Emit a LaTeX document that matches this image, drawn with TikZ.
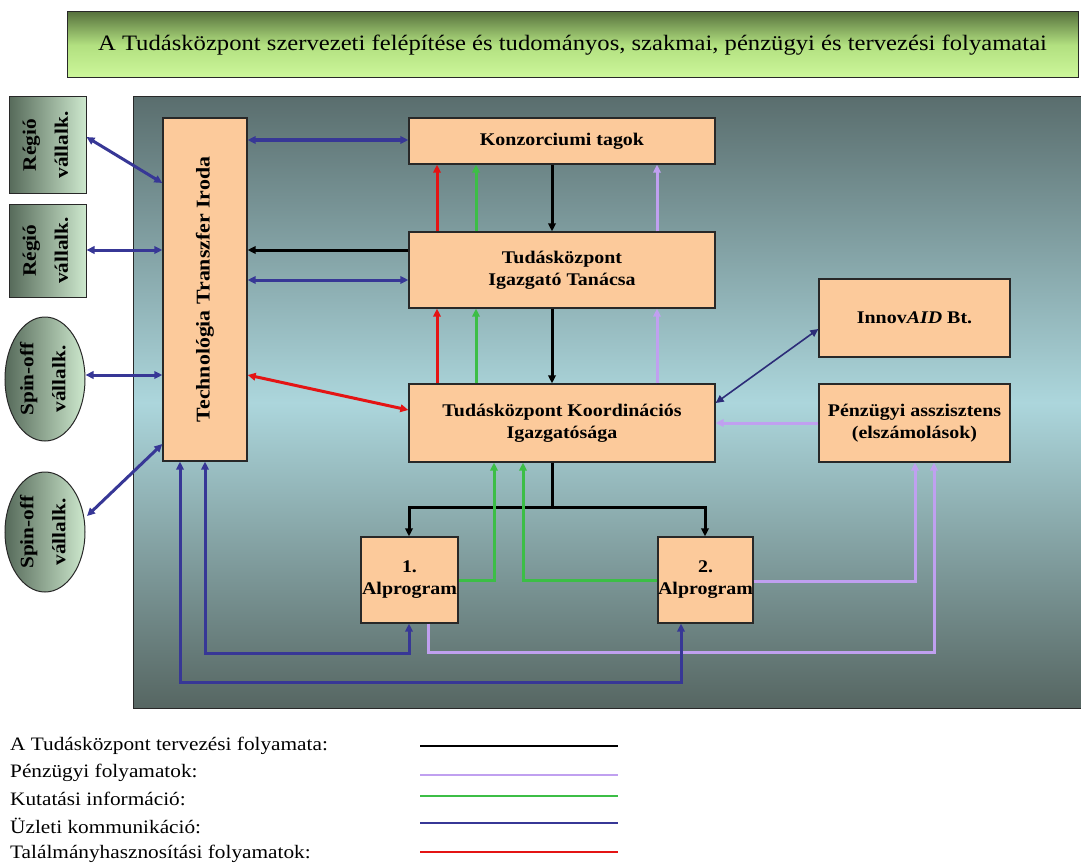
\documentclass[tikz,border=0pt]{standalone}
\usepackage{fontspec}
\setmainfont{Liberation Serif}
\newfontfamily\widefont[FakeStretch=1.12]{Liberation Serif}
\usetikzlibrary{arrows.meta,shapes.geometric,calc}
\definecolor{peach}{RGB}{252,202,155}
\definecolor{cred}{RGB}{228,20,20}
\definecolor{cgreen}{RGB}{60,190,70}
\definecolor{clav}{RGB}{192,160,240}
\definecolor{cblue}{RGB}{55,55,150}
\definecolor{edge}{RGB}{40,40,40}
\definecolor{sidedark}{RGB}{86,106,90}
\definecolor{sidelight}{RGB}{205,232,205}
\begin{document}
\begin{tikzpicture}[x=1pt,y=-1pt,
  box/.style={draw=edge,line width=1.3pt,fill=peach,minimum width=#1,inner sep=0pt,align=center,
    font=\widefont\fontsize{17.8}{22}\selectfont\bfseries},
  side/.style={draw=edge,line width=1pt,left color=sidedark,right color=sidelight,
    inner sep=0pt,font=\widefont\fontsize{19}{22}\selectfont\bfseries},
  tip/.style={-{Triangle[length=8pt,width=7.5pt]}},
  dtip/.style={{Triangle[length=8pt,width=7.5pt]}-{Triangle[length=8pt,width=7.5pt]}},
  flow/.style={line width=3pt},
  blk/.style={flow,black,tip},
  red/.style={flow,cred},
  grn/.style={flow,cgreen},
  lav/.style={flow,clav},
  blu/.style={flow,cblue},
  leg/.style={anchor=west,inner sep=0pt,font=\widefont\fontsize{19}{22}\selectfont},
]
\useasboundingbox (0,0) rectangle (1081,864);
\fill[white] (0,0) rectangle (1081,864);

% title
\node[draw=edge,line width=1pt,top color={rgb,255:red,88;green,115;blue,62},bottom color={rgb,255:red,205;green,247;blue,155},
  middle color={rgb,255:red,178;green,224;blue,128},
  minimum width=1011,minimum height=66,inner sep=0pt,font=\widefont\fontsize{22}{24}\selectfont] (title) at (572.5,45)
  {A Tudásközpont szervezeti felépítése és tudományos, szakmai, pénzügyi és tervezési folyamatai};

% panel
\node[draw=edge,line width=1pt,top color={rgb,255:red,90;green,110;blue,110},bottom color={rgb,255:red,86;green,102;blue,98},
  middle color={rgb,255:red,172;green,214;blue,220},minimum width=952,minimum height=611,inner sep=0pt] (panel) at (609,402.5) {};

% boxes
\node[box=306,minimum height=46] (konz) at (562,141) {Konzorciumi tagok};
\node[box=306,minimum height=76] (igaz) at (562,270) {Tudásközpont\\Igazgató Tanácsa};
\node[box=306,minimum height=78] (koord) at (562,423) {Tudásközpont Koordinációs\\Igazgatósága};
\node[box=191,minimum height=78] (innov) at (914.5,318) {Innov\textit{AID} Bt.};
\node[box=191,minimum height=78] (penz) at (914.5,423) {Pénzügyi asszisztens\\(elszámolások)};
\node[box=97,minimum height=86] (alp1) at (409.5,580) {1.\\Alprogram};
\node[box=95,minimum height=86] (alp2) at (705.5,580) {2.\\Alprogram};
\node[box=84,minimum height=343,font=\widefont\fontsize{19.5}{22}\selectfont\bfseries] (tti) at (205,289.5) {\rotatebox{90}{Technológia Transzfer Iroda}};

% side entities
\node[side,minimum width=77,minimum height=96] (reg1) at (47.5,145)
  {\rotatebox{90}{\begin{tabular}{@{}c@{}}Régió\\[10pt]vállalk.\end{tabular}}};
\node[side,minimum width=77,minimum height=93] (reg2) at (47.5,250.5)
  {\rotatebox{90}{\begin{tabular}{@{}c@{}}Régió\\[10pt]vállalk.\end{tabular}}};
\node[side,ellipse,minimum width=80,minimum height=124] (sp1) at (45,379)
  {\rotatebox{90}{\begin{tabular}{@{}c@{}}Spin-off\\[10pt]vállalk.\end{tabular}}};
\node[side,ellipse,minimum width=80,minimum height=120] (sp2) at (45,532)
  {\rotatebox{90}{\begin{tabular}{@{}c@{}}Spin-off\\[10pt]vállalk.\end{tabular}}};

% external business links
\draw[blu,dtip] (reg1.east |- 0,137) -- (tti.west |- 0,183);
\draw[blu,dtip] (reg2.east |- 0,250) -- (tti.west |- 0,250);
\draw[blu,dtip] (sp1.east |- 0,375) -- (tti.west |- 0,375);
\draw[blu,dtip] (87,516) -- (tti.west |- 0,444);

% TTI links
\draw[blu,dtip] (tti.east |- 0,140) -- (konz.west |- 0,140);
\draw[blk] (igaz.west |- 0,250) -- (tti.east |- 0,250);
\draw[blu,dtip] (tti.east |- 0,280) -- (igaz.west |- 0,280);
\draw[red,dtip] (tti.east |- 0,375) -- (koord.west |- 0,410);

% vertical flows
\draw[blk] (konz.south -| 552,0) -- (igaz.north -| 552,0);
\draw[blk] (igaz.south -| 552,0) -- (koord.north -| 552,0);
\draw[red,tip] (igaz.north -| 437,0) -- (konz.south -| 437,0);
\draw[red,tip] (koord.north -| 437,0) -- (igaz.south -| 437,0);
\draw[grn,tip] (igaz.north -| 476,0) -- (konz.south -| 476,0);
\draw[grn,tip] (koord.north -| 476,0) -- (igaz.south -| 476,0);
\draw[lav,tip] (igaz.north -| 657,0) -- (konz.south -| 657,0);
\draw[lav,tip] (koord.north -| 657,0) -- (igaz.south -| 657,0);

% right side
\draw[cblue!80!black,line width=1.6pt,dtip] (innov.west |- 0,329) -- (koord.east |- 0,403);
\draw[lav,tip] (penz.west |- 0,423) -- (koord.east |- 0,423);

% planning to subprograms
\coordinate (jn) at (552,507);
\draw[flow,black] (koord.south -| 552,0) -- (jn);
\draw[blk] (jn) -| (alp1.north -| 409,0);
\draw[blk] (jn) -| (alp2.north -| 705,0);

% research info from subprograms
\draw[grn,tip] (alp1.east |- 0,580) -| (koord.south -| 494,0);
\draw[grn,tip] (alp2.west |- 0,580) -| (koord.south -| 523,0);

% finance from subprograms
\draw[lav,tip] (alp2.east |- 0,581) -| (penz.south -| 915,0);
\draw[lav,tip] (alp1.south -| 428,0) |- (934,652) -- (penz.south -| 934,0);

% business comm from TTI to subprograms
\draw[blu,dtip] (tti.south -| 205,0) |- (409,653) -- (alp1.south -| 409,0);
\draw[blu,dtip] (tti.south -| 180,0) |- (681,682) -- (alp2.south -| 681,0);

% legend
\node[leg] (l1) at (10,746) {A Tudásközpont tervezési folyamata:};
\node[leg] (l2) at (10,773) {Pénzügyi folyamatok:};
\node[leg] (l3) at (10,799) {Kutatási információ:};
\node[leg] (l4) at (10,826) {Üzleti kommunikáció:};
\node[leg] (l5) at (10,854) {Találmányhasznosítási folyamatok:};
\coordinate (s1) at (420,746); \coordinate (e1) at (618,746);
\coordinate (s2) at (420,775); \coordinate (e2) at (618,775);
\coordinate (s3) at (420,796); \coordinate (e3) at (618,796);
\coordinate (s4) at (420,823); \coordinate (e4) at (618,823);
\coordinate (s5) at (420,852); \coordinate (e5) at (618,852);
\draw[line width=2.8pt,black] (s1) -- (e1);
\draw[line width=2.8pt,clav] (s2) -- (e2);
\draw[line width=2.8pt,cgreen] (s3) -- (e3);
\draw[line width=2.8pt,cblue] (s4) -- (e4);
\draw[line width=2.8pt,cred] (s5) -- (e5);
\end{tikzpicture}
\end{document}
